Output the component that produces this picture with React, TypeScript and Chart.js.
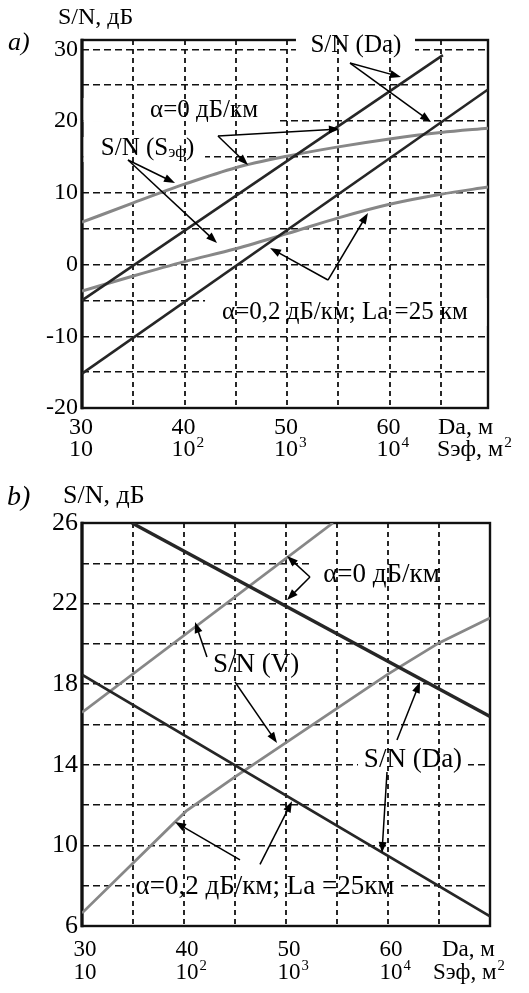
import React, { useEffect, useRef } from "react";
import { Chart, registerables } from "chart.js";

Chart.register(...registerables);

const FONT = '"Liberation Serif", "Times New Roman", serif';

// ---------- Panel a) data ----------
const A_DA_CURVE = [30, 35, 40, 45, 50, 55, 60, 65, 69.6];
const A_SN_S_ALPHA0 = [5.9, 8.6, 11.2, 13.5, 15.1, 16.4, 17.5, 18.4, 19.0];
const A_SN_S_ALPHA02 = [-3.7, -1.6, 0.4, 2.2, 4.3, 6.5, 8.4, 9.8, 10.8];
const A_DA_LINE0 = [30, 65.2];
const A_SN_DA_ALPHA0 = [-5.0, 29.2];
const A_DA_LINE02 = [30, 69.6];
const A_SN_DA_ALPHA02 = [-15.2, 24.4];

// ---------- Panel b) data ----------
const B_DA_V0 = [30, 54.6];
const B_SN_V_ALPHA0 = [16.6, 26];
const B_DA_V02 = [30, 40.2, 45, 50, 55, 60, 65, 70];
const B_SN_V_ALPHA02 = [6.64, 11.7, 13.4, 15.1, 16.8, 18.5, 20.05, 21.29];
const B_DA_LINE0 = [34.9, 70];
const B_SN_DA_ALPHA0 = [26, 16.4];
const B_DA_LINE02 = [30, 70];
const B_SN_DA_ALPHA02 = [18.47, 6.48];

// ---------- ticks ----------
const X_TICK_VALUES = [30, 40, 50, 60];
const X_TICK_DA = ["30", "40", "50", "60"];
const X_TICK_S_BASE = ["10", "10", "10", "10"];
const X_TICK_S_EXP = ["", "2", "3", "4"];
const A_Y_TICKS = [30, 20, 10, 0, -10, -20];
const B_Y_TICKS = [26, 22, 18, 14, 10, 6];

type Note = { text: string; sub?: string; tail?: string; x: number; y: number; box?: number[] };

const A_NOTES: Note[] = [
  { text: "S/N (Da)", x: 56.72, y: 30.6, box: [50.87, 32.97, 62.48, 28.51] },
  { text: "α=0 дБ/км", x: 41.9, y: 21.54, box: [30.15, 23.22, 49.02, 19.87] },
  { text: "S/N (S", sub: "эф", tail: ")", x: 36.39, y: 16.24, box: [30.15, 17.78, 42.0, 14.29] },
  { text: "α=0,2 дБ/км; La =25 км", x: 55.65, y: -6.62, box: [42.0, -4.67, 69.45, -8.57] },
];
const A_ARROWS = [
  [56.14, 28.09, 61.11, 26.14],
  [56.14, 28.09, 64.04, 19.87],
  [43.26, 17.92, 55.16, 18.9],
  [43.26, 17.92, 46.19, 13.87],
  [34.49, 14.57, 39.07, 11.37],
  [34.49, 14.57, 43.17, 3.0],
  [53.99, -2.16, 57.89, 7.18],
  [53.99, -2.16, 48.34, 2.3],
];

const B_NOTES: Note[] = [
  { text: "α=0 дБ/км", x: 59.36, y: 23.42, box: [52.35, 24.26, 69.8, 22.58] },
  { text: "S/N (V)", x: 47.06, y: 18.95 },
  { text: "S/N (Da)", x: 62.45, y: 14.24, box: [57.06, 14.98, 67.84, 13.44] },
  { text: "α=0,2 дБ/км; La =25км", x: 47.94, y: 7.94, box: [34.71, 8.68, 60.88, 7.19] },
];
const B_ARROWS = [
  [52.35, 23.32, 50.1, 24.36],
  [52.35, 23.32, 50.1, 22.18],
  [42.25, 19.35, 41.08, 21.09],
  [45.0, 18.11, 49.12, 15.08],
  [60.88, 15.23, 63.14, 18.11],
  [59.9, 13.64, 59.41, 9.62],
  [45.49, 9.28, 39.12, 11.16],
  [47.45, 9.06, 50.59, 12.19],
];

const DARK = "#262626";
const GRAY = "#878787";

const pts = (xs: number[], ys: number[]) => xs.map((x, i) => ({ x, y: ys[i] }));

function line(data: any[], color: string, width: number, mono = false) {
  return {
    data,
    borderColor: color,
    borderWidth: width,
    pointRadius: 0,
    fill: false,
    tension: 0,
    cubicInterpolationMode: mono ? "monotone" : "default",
  };
}

type PanelCfg = {
  top: number;
  height: number;
  padding: { left: number; top: number; right: number; bottom: number };
  xMin: number;
  xMax: number;
  yMin: number;
  yMax: number;
  yStep: number;
  datasets: any[];
  yTicks: number[];
  yTickFont: number;
  xTickFont: number;
  xRow1: number;
  xRow2: number;
  xTickDx: number;
  unitDaX: number;
  unitSX: number;
  panelLabel: string;
  panelLabelPos: number[];
  yTitlePos: number[];
  yTitleFont: number;
  notes: Note[];
  noteFont: number;
  arrows: number[][];
};

function drawArrow(ctx: CanvasRenderingContext2D, x0: number, y0: number, x1: number, y1: number) {
  const ang = Math.atan2(y1 - y0, x1 - x0);
  const L = 11;
  const W = 4;
  const c = Math.cos(ang);
  const s = Math.sin(ang);
  ctx.beginPath();
  ctx.moveTo(x0, y0);
  ctx.lineTo(x1 - c * (L - 2), y1 - s * (L - 2));
  ctx.stroke();
  ctx.beginPath();
  ctx.moveTo(x1, y1);
  ctx.lineTo(x1 - L * c + W * s, y1 - L * s - W * c);
  ctx.lineTo(x1 - L * c - W * s, y1 - L * s + W * c);
  ctx.closePath();
  ctx.fill();
}

function drawNote(ctx: CanvasRenderingContext2D, n: Note, px: number, py: number, size: number) {
  const subSize = size * 0.66;
  ctx.font = `${size}px ${FONT}`;
  const w1 = ctx.measureText(n.text).width;
  const w3 = n.tail ? ctx.measureText(n.tail).width : 0;
  ctx.font = `${subSize}px ${FONT}`;
  const w2 = n.sub ? ctx.measureText(n.sub).width : 0;
  let x = px - (w1 + w2 + w3) / 2;
  ctx.textAlign = "left";
  ctx.textBaseline = "middle";
  ctx.font = `${size}px ${FONT}`;
  ctx.fillText(n.text, x, py);
  x += w1;
  if (n.sub) {
    ctx.font = `${subSize}px ${FONT}`;
    ctx.fillText(n.sub, x, py + size * 0.2);
    x += w2;
  }
  if (n.tail) {
    ctx.font = `${size}px ${FONT}`;
    ctx.fillText(n.tail, x, py);
  }
}

function drawPow(ctx: CanvasRenderingContext2D, base: string, exp: string, x: number, y: number, size: number, centerBase: boolean) {
  ctx.font = `${size}px ${FONT}`;
  ctx.textAlign = "left";
  ctx.textBaseline = "middle";
  const wb = ctx.measureText(base).width;
  const left = centerBase ? x - wb / 2 : x;
  ctx.fillText(base, left, y);
  if (exp) {
    ctx.font = `${size * 0.64}px ${FONT}`;
    ctx.fillText(exp, left + wb + 1, y - size * 0.3);
  }
}

function decorPlugin(cfg: PanelCfg) {
  return {
    id: "decor",
    beforeDatasetsDraw(chart: any) {
      const { ctx, chartArea: ca } = chart;
      const xs = chart.scales.x;
      const ys = chart.scales.y;
      ctx.save();
      // frame
      ctx.strokeStyle = "#111";
      ctx.lineWidth = 2.4;
      ctx.strokeRect(ca.left, ca.top, ca.right - ca.left, ca.bottom - ca.top);
      ctx.lineWidth = 3.2;
      ctx.beginPath();
      ctx.moveTo(ca.left, ca.top - 1.2);
      ctx.lineTo(ca.left, ca.bottom + 1.2);
      ctx.stroke();
      // white label boxes (hide horizontal grid lines / top frame)
      ctx.fillStyle = "#fff";
      for (const n of cfg.notes) {
        if (!n.box) continue;
        const x0 = xs.getPixelForValue(n.box[0]);
        const y0 = ys.getPixelForValue(n.box[1]);
        const x1 = xs.getPixelForValue(n.box[2]);
        const y1 = ys.getPixelForValue(n.box[3]);
        ctx.fillRect(Math.min(x0, x1), Math.min(y0, y1), Math.abs(x1 - x0), Math.abs(y1 - y0));
      }
      // vertical grid lines from the x scale ticks
      ctx.strokeStyle = "#111";
      ctx.lineWidth = 1.8;
      ctx.setLineDash([5, 4]);
      for (const t of xs.ticks) {
        if (t.value <= cfg.xMin || t.value >= cfg.xMax) continue;
        const px = Math.round(xs.getPixelForValue(t.value));
        ctx.beginPath();
        ctx.moveTo(px, ca.top);
        ctx.lineTo(px, ca.bottom);
        ctx.stroke();
      }
      ctx.restore();
    },
    afterDatasetsDraw(chart: any) {
      const { ctx, chartArea: ca } = chart;
      const xs = chart.scales.x;
      const ys = chart.scales.y;
      ctx.save();
      ctx.fillStyle = "#000";
      ctx.strokeStyle = "#000";
      ctx.lineWidth = 1.5;
      for (const n of cfg.notes) {
        drawNote(ctx, n, xs.getPixelForValue(n.x), ys.getPixelForValue(n.y), cfg.noteFont);
      }
      for (const a of cfg.arrows) {
        drawArrow(ctx, xs.getPixelForValue(a[0]), ys.getPixelForValue(a[1]), xs.getPixelForValue(a[2]), ys.getPixelForValue(a[3]));
      }
      // y tick labels
      ctx.font = `${cfg.yTickFont}px ${FONT}`;
      ctx.textAlign = "right";
      ctx.textBaseline = "middle";
      for (const v of cfg.yTicks) {
        ctx.fillText(String(v), ca.left - 4, ys.getPixelForValue(v));
      }
      // x tick labels (two rows)
      X_TICK_VALUES.forEach((v, i) => {
        const px = xs.getPixelForValue(v) + cfg.xTickDx;
        ctx.font = `${cfg.xTickFont}px ${FONT}`;
        ctx.textAlign = "center";
        ctx.textBaseline = "middle";
        ctx.fillText(X_TICK_DA[i], px, ca.bottom + cfg.xRow1);
        drawPow(ctx, X_TICK_S_BASE[i], X_TICK_S_EXP[i], px, ca.bottom + cfg.xRow2, cfg.xTickFont, true);
      });
      // unit labels
      ctx.font = `${cfg.xTickFont}px ${FONT}`;
      ctx.textAlign = "left";
      ctx.textBaseline = "middle";
      ctx.fillText("Da, м", cfg.unitDaX, ca.bottom + cfg.xRow1);
      drawPow(ctx, "Sэф, м", "2", cfg.unitSX, ca.bottom + cfg.xRow2, cfg.xTickFont, false);
      // titles
      ctx.textAlign = "left";
      ctx.textBaseline = "middle";
      ctx.font = `italic ${cfg.yTitleFont + 2}px ${FONT}`;
      ctx.fillText(cfg.panelLabel, cfg.panelLabelPos[0], cfg.panelLabelPos[1]);
      ctx.font = `${cfg.yTitleFont}px ${FONT}`;
      ctx.fillText("S/N, дБ", cfg.yTitlePos[0], cfg.yTitlePos[1]);
      ctx.restore();
    },
  };
}

function Panel({ cfg }: { cfg: PanelCfg }) {
  const ref = useRef<HTMLCanvasElement>(null);
  useEffect(() => {
    const canvas = ref.current;
    if (!canvas) return;
    const chart = new Chart(canvas, {
      type: "line",
      data: { datasets: cfg.datasets },
      options: {
        animation: false,
        responsive: false,
        devicePixelRatio: 1,
        events: [],
        layout: { padding: cfg.padding },
        plugins: { legend: { display: false }, tooltip: { enabled: false } },
        scales: {
          x: {
            type: "linear",
            min: cfg.xMin,
            max: cfg.xMax,
            ticks: { stepSize: 5, display: false, includeBounds: false },
            grid: { display: false, drawTicks: false },
            border: { display: false },
            afterFit: (s: any) => {
              s.height = 0;
            },
          },
          y: {
            type: "linear",
            min: cfg.yMin,
            max: cfg.yMax,
            ticks: { stepSize: cfg.yStep, display: false, includeBounds: false },
            grid: { color: "#111", lineWidth: 1.5, drawTicks: false },
            border: { display: false, dash: [7, 4] },
            afterFit: (s: any) => {
              s.width = 0;
            },
          },
        },
      } as any,
      plugins: [decorPlugin(cfg) as any],
    });
    return () => chart.destroy();
  }, [cfg]);
  return (
    <div style={{ position: "absolute", left: 0, top: cfg.top, width: 529, height: cfg.height }}>
      <canvas ref={ref} width={529} height={cfg.height} style={{ display: "block", width: 529, height: cfg.height }} />
    </div>
  );
}

const PANEL_A: PanelCfg = {
  top: 0,
  height: 480,
  padding: { left: 82, top: 40, right: 41, bottom: 72 },
  xMin: 30,
  xMax: 69.6,
  yMin: -20,
  yMax: 31.3,
  yStep: 5,
  datasets: [
    line(pts(A_DA_LINE0, A_SN_DA_ALPHA0), DARK, 2.6),
    line(pts(A_DA_LINE02, A_SN_DA_ALPHA02), DARK, 2.6),
    line(pts(A_DA_CURVE, A_SN_S_ALPHA0), GRAY, 3, true),
    line(pts(A_DA_CURVE, A_SN_S_ALPHA02), GRAY, 3, true),
  ],
  yTicks: A_Y_TICKS,
  yTickFont: 24,
  xTickFont: 24,
  xRow1: 20,
  xRow2: 42,
  xTickDx: -1,
  unitDaX: 438,
  unitSX: 437,
  panelLabel: "a)",
  panelLabelPos: [8, 43],
  yTitlePos: [58, 18],
  yTitleFont: 24,
  notes: A_NOTES,
  noteFont: 25,
  arrows: A_ARROWS,
};

const PANEL_B: PanelCfg = {
  top: 480,
  height: 513,
  padding: { left: 82, top: 43, right: 39, bottom: 67 },
  xMin: 30,
  xMax: 70,
  yMin: 6,
  yMax: 26,
  yStep: 2,
  datasets: [
    line(pts(B_DA_LINE0, B_SN_DA_ALPHA0), DARK, 3.4),
    line(pts(B_DA_LINE02, B_SN_DA_ALPHA02), DARK, 2.6),
    line(pts(B_DA_V0, B_SN_V_ALPHA0), GRAY, 2.8),
    line(pts(B_DA_V02, B_SN_V_ALPHA02), GRAY, 2.8),
  ],
  yTicks: B_Y_TICKS,
  yTickFont: 26,
  xTickFont: 23,
  xRow1: 24,
  xRow2: 47,
  xTickDx: 3,
  unitDaX: 442,
  unitSX: 433,
  panelLabel: "b)",
  panelLabelPos: [7, 18],
  yTitlePos: [63, 16],
  yTitleFont: 26,
  notes: B_NOTES,
  noteFont: 27,
  arrows: B_ARROWS,
};

export default function App() {
  return (
    <div style={{ position: "absolute", left: 0, top: 0, width: 529, height: 993, background: "#fff", overflow: "hidden" }}>
      <Panel cfg={PANEL_A} />
      <Panel cfg={PANEL_B} />
    </div>
  );
}
